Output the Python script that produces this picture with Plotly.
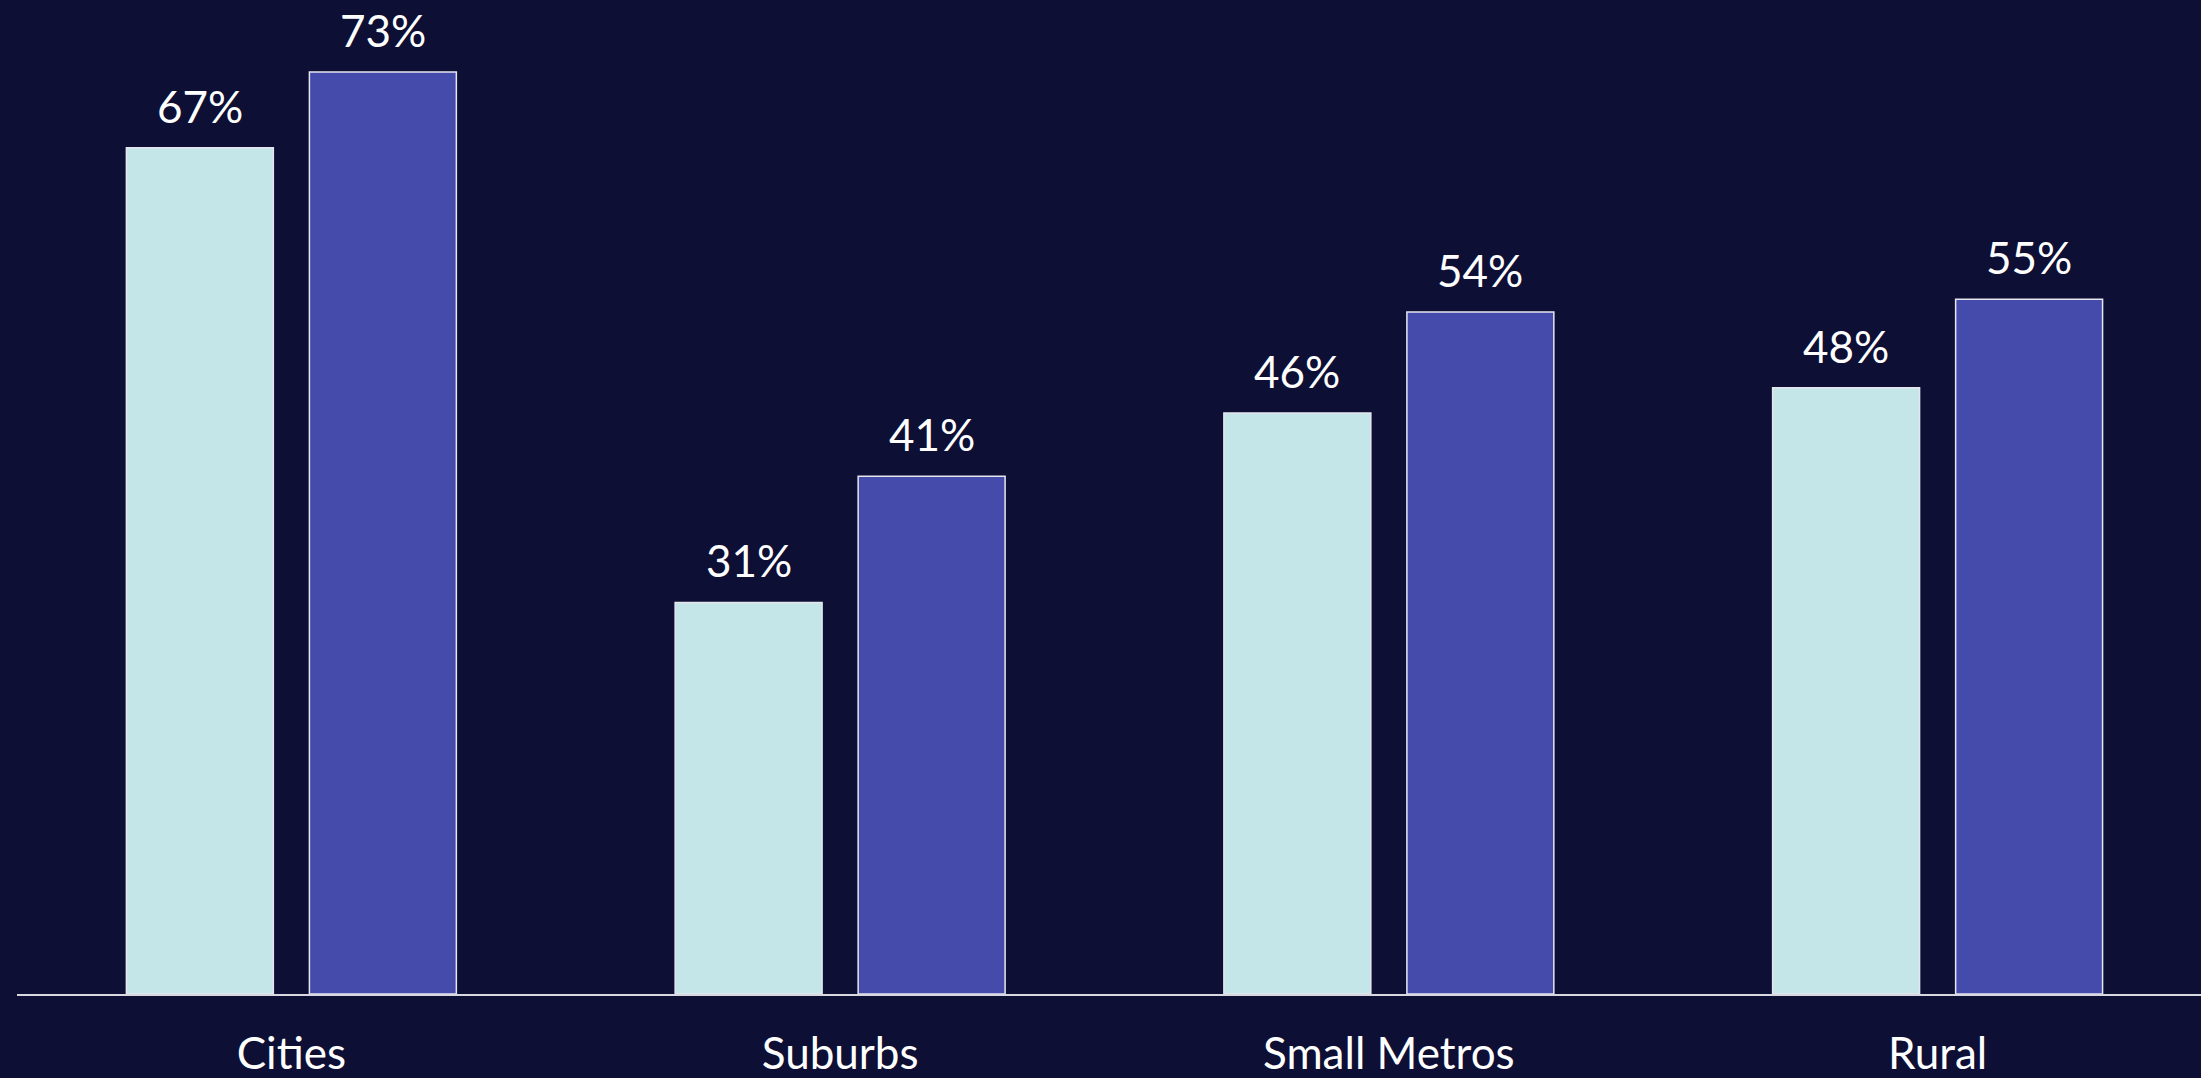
import plotly.graph_objects as go

categories = ["Cities", "Suburbs", "Small Metros", "Rural"]
series_a = [67, 31, 46, 48]
series_b = [73, 41, 54, 55]

bg = "#0D0F35"
bargap = 0.333
bargroupgap = 0.197
colors = ["#C5E6E8", "#454BAA"]
series = [series_a, series_b]

fig = go.Figure()
for vals, color in zip(series, colors):
    fig.add_trace(go.Bar(
        x=categories, y=vals,
        marker=dict(color=color, line=dict(color="#E6E6EE", width=1.5)),
        cliponaxis=False,
    ))

# value labels above each bar
n = len(series)
slot = (1 - bargap) / n
annotations = []
for k, vals in enumerate(series):
    off = -(1 - bargap) / 2 + slot * (k + 0.5)
    for i, v in enumerate(vals):
        annotations.append(dict(
            x=i + off, y=v, xref="x", yref="y", text=f"{v}%",
            showarrow=False, yanchor="bottom", yshift=14,
            font=dict(color="white", size=44, family="Lato"),
        ))

fig.update_layout(
    width=2201, height=1078,
    paper_bgcolor=bg, plot_bgcolor=bg,
    margin=dict(l=17, r=0, t=0, b=82),
    barmode="group", bargap=bargap, bargroupgap=bargroupgap,
    showlegend=False,
    font=dict(family="Lato", color="white"),
    annotations=annotations,
)
fig.update_xaxes(range=[-0.5, 3.48], showline=True, linecolor="#D8D8E0", linewidth=2,
                 showgrid=False, ticks="", ticklabelstandoff=20,
                 tickfont=dict(size=44, color="white", family="Lato"))
fig.update_yaxes(range=[0, 78.7], visible=False, showgrid=False, zeroline=False)

fig.write_html("out.html", config={"displayModeBar": False},
               post_script="document.body.style.margin='0';document.body.style.background='#0D0F35';document.body.style.overflow='hidden';")
